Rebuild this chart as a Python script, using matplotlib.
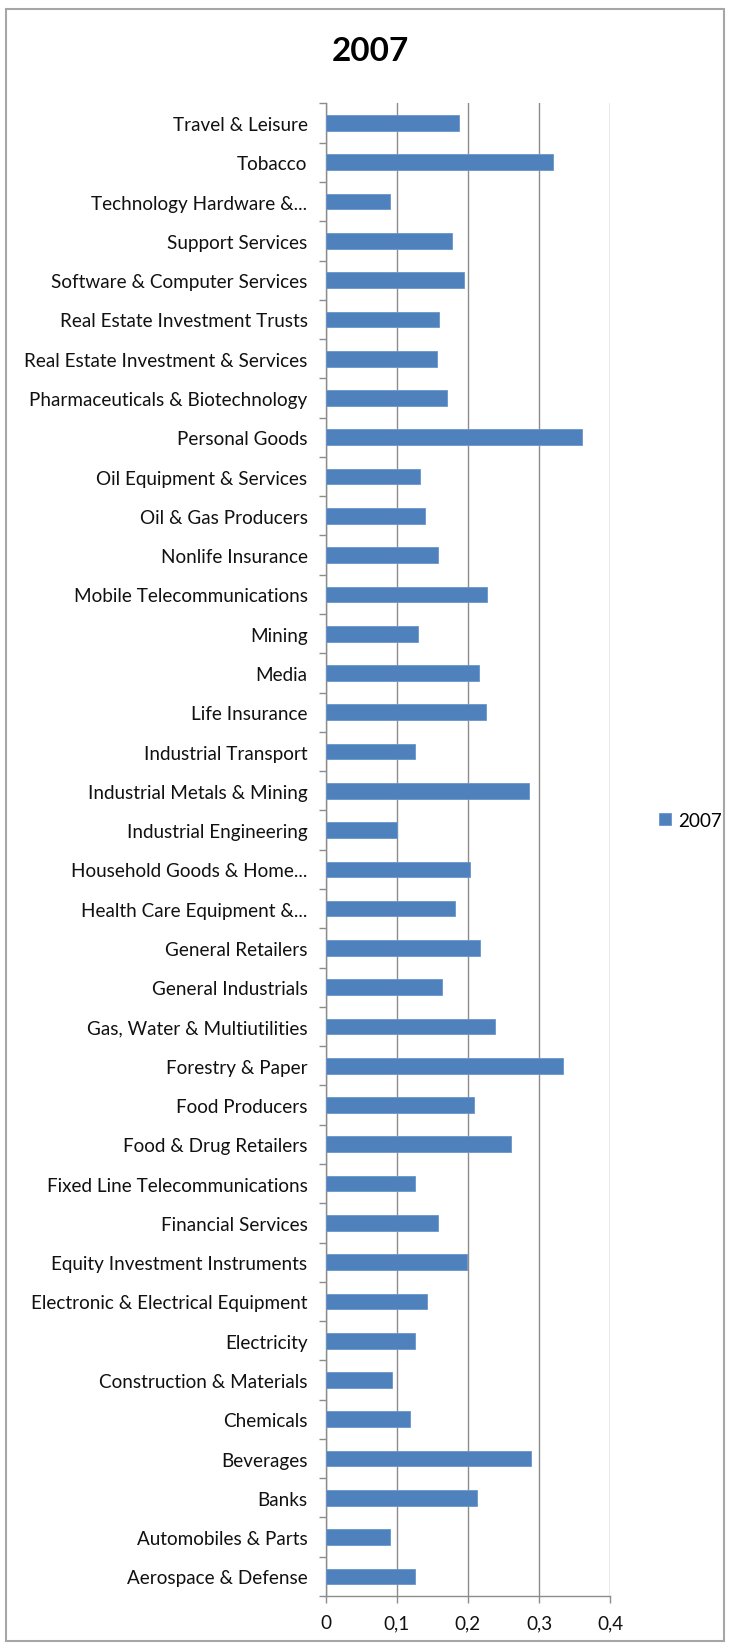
import numpy as np
import matplotlib
matplotlib.use('Agg')
import matplotlib.pyplot as plt
from matplotlib.patches import Rectangle
from matplotlib.ticker import FuncFormatter

plt.rcParams['font.family'] = ['Lato', 'DejaVu Sans']

# dados (de cima para baixo)
setores = [
    'Travel & Leisure', 'Tobacco', 'Technology Hardware &...', 'Support Services',
    'Software & Computer Services', 'Real Estate Investment Trusts',
    'Real Estate Investment & Services', 'Pharmaceuticals & Biotechnology',
    'Personal Goods', 'Oil Equipment & Services', 'Oil & Gas Producers',
    'Nonlife Insurance', 'Mobile Telecommunications', 'Mining', 'Media',
    'Life Insurance', 'Industrial Transport', 'Industrial Metals & Mining',
    'Industrial Engineering', 'Household Goods & Home...', 'Health Care Equipment &...',
    'General Retailers', 'General Industrials', 'Gas, Water & Multiutilities',
    'Forestry & Paper', 'Food Producers', 'Food & Drug Retailers',
    'Fixed Line Telecommunications', 'Financial Services', 'Equity Investment Instruments',
    'Electronic & Electrical Equipment', 'Electricity', 'Construction & Materials',
    'Chemicals', 'Beverages', 'Banks', 'Automobiles & Parts', 'Aerospace & Defense',
]
valores_2007 = [
    0.188, 0.319, 0.091, 0.178,
    0.195, 0.160,
    0.156, 0.170,
    0.360, 0.132, 0.139,
    0.158, 0.227, 0.130, 0.215,
    0.226, 0.125, 0.286,
    0.100, 0.203, 0.182,
    0.217, 0.163, 0.238,
    0.333, 0.208, 0.260,
    0.126, 0.158, 0.199,
    0.143, 0.125, 0.094,
    0.118, 0.289, 0.213, 0.091, 0.125,
]
ticks_x = [0, 0.1, 0.2, 0.3, 0.4]

cor_barra = '#4F81BD'
cinza = '#8C8C8C'

fig = plt.figure(figsize=(7.3, 16.49), dpi=100)
ax = fig.add_axes([0.446, 0.0315, 0.390, 0.9052])

y = np.arange(len(setores))
ax.barh(y, valores_2007, height=0.4, color=cor_barra, edgecolor='#6A96CC',
        linewidth=0.6, label='2007', zorder=3)

ax.set_ylim(len(setores) - 0.5, -0.5)
ax.set_xlim(0, 0.4)
ax.set_xticks(ticks_x)
ax.xaxis.set_major_formatter(FuncFormatter(lambda v, p: ('%g' % v).replace('.', ',')))
ax.set_yticks(y)
ax.set_yticklabels(setores)
ax.set_yticks(np.arange(len(setores) + 1) - 0.5, minor=True)

ax.tick_params(axis='y', which='major', length=0, pad=13, labelsize=13.6, labelcolor='#111111')
ax.tick_params(axis='y', which='minor', length=5, direction='out', color=cinza, width=1)
ax.tick_params(axis='x', length=5, direction='out', color=cinza, width=1, pad=8,
               labelsize=13.6, labelcolor='#111111')

ax.grid(axis='x', color=cinza, linewidth=1, zorder=0)
for lado in ['top', 'right']:
    ax.spines[lado].set_visible(False)
for lado in ['left', 'bottom']:
    ax.spines[lado].set_color(cinza)
    ax.spines[lado].set_linewidth(1)

fig.text(0.507, 0.969, '2007', ha='center', va='center', fontsize=24, fontweight='bold')

fig.legend(loc='center left', bbox_to_anchor=(0.88, 0.502), frameon=False,
           handlelength=0.6, handleheight=0.6, handletextpad=0.4, fontsize=13.6)

borda = Rectangle((0.008, 0.004), 0.984, 0.99, transform=fig.transFigure,
                  fill=False, edgecolor='#A6A6A6', linewidth=1.5)
fig.patches.append(borda)

fig.savefig('out.png', dpi=100)
